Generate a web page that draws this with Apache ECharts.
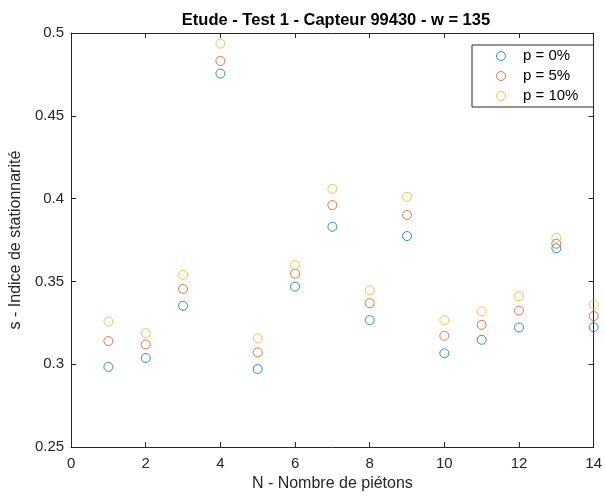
<!DOCTYPE html>
<html>
<head>
<meta charset="utf-8">
<script src="https://cdn.jsdelivr.net/npm/echarts@6/dist/echarts.min.js"></script>
<style>html,body{margin:0;padding:0;background:#fff}#c{width:605px;height:497px}</style>
</head>
<body>
<div id="c"></div>
<script>
const categories = [1, 2, 3, 4, 5, 6, 7, 8, 9, 10, 11, 12, 13, 14];
const p0 = [0.2984, 0.3038, 0.3353, 0.4755, 0.2971, 0.3469, 0.3830, 0.3267, 0.3774, 0.3066, 0.3148, 0.3222, 0.3700, 0.3224];
const p5 = [0.3140, 0.3120, 0.3455, 0.4831, 0.3072, 0.3547, 0.3961, 0.3369, 0.3901, 0.3172, 0.3238, 0.3324, 0.3728, 0.3291];
const p10 = [0.3258, 0.3188, 0.3540, 0.4936, 0.3156, 0.3599, 0.4059, 0.3447, 0.4011, 0.3267, 0.3319, 0.3411, 0.3764, 0.3361];
const seriesNames = ['p = 0%', 'p = 5%', 'p = 10%'];
const seriesColors = ['#0072BD', '#D95319', '#EDB120'];
const xTicks = [0, 14, 2];
const yTicks = [0.25, 0.5, 0.05];

const FONT = 'Liberation Sans, Arial, Helvetica, sans-serif';
const AX = '#262626';
const allData = [p0, p5, p10];

const chart = echarts.init(document.getElementById('c'), null, {renderer: 'canvas'});

function xAxisDef(pos, showLabel) {
  return {
    type: 'value', position: pos, min: xTicks[0], max: xTicks[1], interval: xTicks[2],
    axisLine: {show: true, onZero: false, lineStyle: {color: AX, width: 1}},
    axisTick: {show: true, inside: true, length: 5, lineStyle: {color: AX}},
    axisLabel: {show: showLabel, color: AX, fontSize: 15, fontFamily: FONT, margin: 9},
    splitLine: {show: false},
    name: showLabel ? 'N - Nombre de piétons' : '',
    nameLocation: 'middle', nameGap: 27,
    nameTextStyle: {color: AX, fontSize: 16, fontFamily: FONT}
  };
}
function yAxisDef(pos, showLabel) {
  return {
    type: 'value', position: pos, min: yTicks[0], max: yTicks[1], interval: yTicks[2],
    axisLine: {show: true, onZero: false, lineStyle: {color: AX, width: 1}},
    axisTick: {show: true, inside: true, length: 5, lineStyle: {color: AX}},
    axisLabel: {show: showLabel, color: AX, fontSize: 15, fontFamily: FONT, margin: 7,
      formatter: v => String(+v.toFixed(2))},
    splitLine: {show: false},
    name: showLabel ? 's - Indice de stationnarité' : '',
    nameLocation: 'middle', nameGap: 44,
    nameTextStyle: {color: AX, fontSize: 16, fontFamily: FONT}
  };
}

chart.setOption({
  animation: false,
  backgroundColor: '#fff',
  title: {
    text: 'Etude - Test 1 - Capteur 99430 - w = 135',
    left: 331, top: 7, textAlign: 'center',
    textStyle: {color: '#000', fontSize: 16.5, fontWeight: 'bold', fontFamily: FONT}
  },
  grid: {left: 68, right: 9, top: 33, bottom: 47, containLabel: false},
  legend: {
    orient: 'vertical', left: 472, top: 45,
    padding: [3.5, 15, 3.5, 24],
    itemWidth: 34, itemHeight: 9, itemGap: 5,
    borderColor: AX, borderWidth: 1, backgroundColor: '#fff',
    itemStyle: {borderWidth: 1},
    textStyle: {color: '#000', fontSize: 15, fontFamily: FONT, lineHeight: 15},
    data: seriesNames
  },
  xAxis: [xAxisDef('bottom', true), xAxisDef('top', false)],
  yAxis: [yAxisDef('left', true), yAxisDef('right', false)],
  series: seriesNames.map((n, i) => ({
    name: n, type: 'scatter', xAxisIndex: 0, yAxisIndex: 0,
    symbol: 'circle', symbolSize: 9,
    itemStyle: {color: 'rgba(255,255,255,0)', borderColor: seriesColors[i], borderWidth: 1},
    data: categories.map((c, k) => [c, allData[i][k]])
  }))
});
</script>
</body>
</html>
